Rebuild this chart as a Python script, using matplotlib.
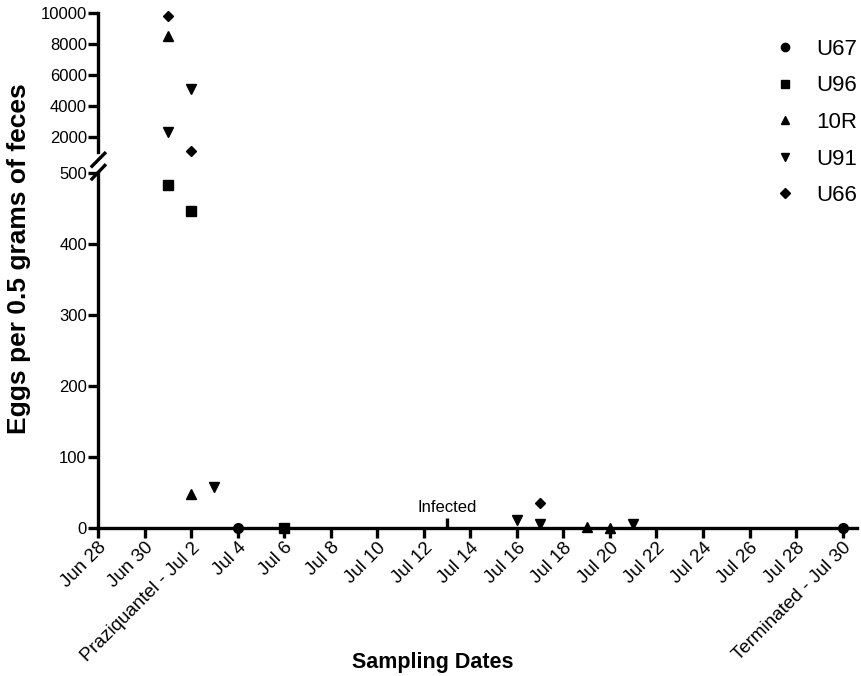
import matplotlib
matplotlib.use("Agg")
from matplotlib import pyplot as plt

plt.rcParams['font.family'] = ['Liberation Sans', 'DejaVu Sans']

# days counted from Jun 28 (day 0)
tick_days = list(range(0, 33, 2))
tick_labels = ['Jun 28', 'Jun 30', 'Praziquantel - Jul 2', 'Jul 4', 'Jul 6', 'Jul 8',
               'Jul 10', 'Jul 12', 'Jul 14', 'Jul 16', 'Jul 18', 'Jul 20', 'Jul 22',
               'Jul 24', 'Jul 26', 'Jul 28', 'Terminated - Jul 30']

u67_days = [6, 32]
u67_vals = [0, 0]
u96_days = [3, 4, 8]
u96_vals = [483, 446, 0]
r10_days = [3, 4, 21, 22]
r10_vals = [8500, 48, 2, 0]
u91_days = [3, 4, 5, 18, 19, 23]
u91_vals = [2300, 5100, 58, 11, 6, 5]
u66_days = [3, 4, 19]
u66_vals = [9800, 1050, 35]

infected_day = 15

series = [('U67', u67_days, u67_vals, 'o'),
          ('U96', u96_days, u96_vals, 's'),
          ('10R', r10_days, r10_vals, '^'),
          ('U91', u91_days, u91_vals, 'v'),
          ('U66', u66_days, u66_vals, 'D')]
msize = {'o': 7, 's': 7, '^': 7, 'v': 7, 'D': 5.5}

fig = plt.figure(figsize=(8.62, 6.76), dpi=100)
ax_top = fig.add_axes([0.1137, 0.775, 0.88, 0.206])
ax_bot = fig.add_axes([0.1137, 0.219, 0.88, 0.525])

lw = 2.4
for ax in (ax_top, ax_bot):
    ax.set_xlim(0, 32.6)
    ax.spines['right'].set_visible(False)
    ax.spines['top'].set_visible(False)
    ax.spines['left'].set_linewidth(lw)
    ax.spines['bottom'].set_linewidth(lw)
    ax.tick_params(width=lw, length=7, labelsize=12, pad=1)

ax_top.spines['bottom'].set_visible(False)
ax_top.set_xticks([])
ax_top.set_ylim(1000, 10000)
ax_top.set_yticks([2000, 4000, 6000, 8000, 10000])

ax_bot.set_ylim(0, 500)
ax_bot.set_yticks([0, 100, 200, 300, 400, 500])
ax_bot.set_xticks(tick_days)
ax_bot.set_xticklabels(tick_labels, rotation=45, ha='right', rotation_mode='anchor',
                       fontsize=13.5)

handles = []
for name, days, vals, m in series:
    lo = [(d, v) for d, v in zip(days, vals) if v <= 500]
    hi = [(d, v) for d, v in zip(days, vals) if v > 500]
    if lo:
        ax_bot.plot([p[0] for p in lo], [p[1] for p in lo], linestyle='none', marker=m,
                    color='black', markersize=msize[m], clip_on=False, zorder=5)
    if hi:
        ax_top.plot([p[0] for p in hi], [p[1] for p in hi], linestyle='none', marker=m,
                    color='black', markersize=msize[m], clip_on=False, zorder=5)
    h, = ax_bot.plot([], [], linestyle='none', marker=m, color='black',
                     markersize=msize[m] * 0.85, label=name)
    handles.append(h)

# infected marker
ax_bot.vlines(infected_day, 0, 14, color='black', lw=2.4)
ax_bot.text(infected_day, 18, 'Infected', ha='center', va='bottom', fontsize=12)

# axis break marks (slashes on the left spine)
kw = dict(color='black', lw=2.4, clip_on=False, solid_capstyle='butt')
ax_top.plot([-0.0095, 0.0105], [-0.11, 0.0], transform=ax_top.transAxes, **kw)
ax_bot.plot([-0.0095, 0.0105], [0.98, 1.025], transform=ax_bot.transAxes, **kw)

fig.legend(handles=handles, loc='upper left', bbox_to_anchor=(0.875, 0.972),
           frameon=False, fontsize=16, handlelength=1.0, handletextpad=0.9,
           labelspacing=0.7)

fig.text(0.022, 0.618, 'Eggs per 0.5 grams of feces', rotation=90, ha='center',
         va='center', fontsize=19, fontweight='bold')
fig.text(0.502, 0.02, 'Sampling Dates', ha='center', va='center',
         fontsize=15.5, fontweight='bold')

fig.savefig('out.png', dpi=100)
